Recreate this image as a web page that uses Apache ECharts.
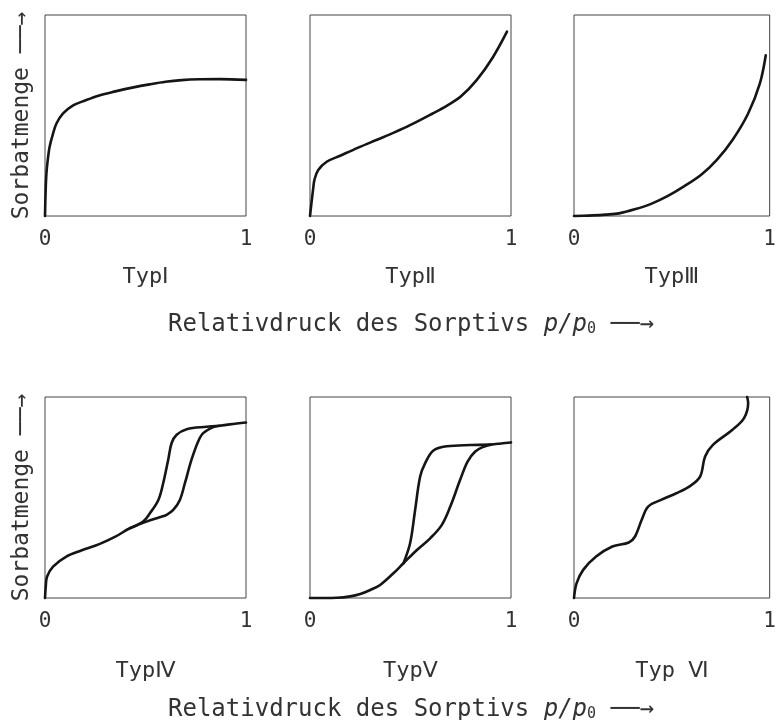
<!DOCTYPE html>
<html>
<head>
<meta charset="utf-8">
<script src="https://cdn.jsdelivr.net/npm/echarts@6/dist/echarts.min.js"></script>
<style>html,body{margin:0;padding:0;background:#fff}#c{width:779px;height:720px}</style>
</head>
<body>
<div id="c"></div>
<script>
// ---- data (relative pressure p/p0 -> sorbed amount, normalised 0..1) ----
const typeNames = ['Typ\u2160', 'Typ\u2161', 'Typ\u2162', 'Typ\u2163', 'Typ\u2164', 'Typ \u2165'];
const tickLabels = ['0', '1'];
const yNameText = 'Sorbatmenge';
const xTitleText = 'Relativdruck des Sorptivs';
const xTitleVar = 'p/p';
const xTitleSub = '0';
const arrowText = '\u2500\u2500\u2192';

const typ1X = [0, 0.003, 0.007, 0.015, 0.023, 0.04, 0.057, 0.09, 0.14, 0.2, 0.27, 0.35, 0.44, 0.52, 0.6, 0.68, 0.77, 0.87, 1.0];
const typ1Y = [0, 0.12, 0.21, 0.29, 0.345, 0.41, 0.46, 0.51, 0.55, 0.575, 0.60, 0.62, 0.64, 0.655, 0.668, 0.676, 0.68, 0.681, 0.677];

const typ2X = [0, 0.008, 0.017, 0.022, 0.041, 0.083, 0.15, 0.24, 0.33, 0.42, 0.5, 0.61, 0.68, 0.75, 0.83, 0.91, 0.98];
const typ2Y = [0, 0.07, 0.146, 0.18, 0.229, 0.27, 0.30, 0.34, 0.378, 0.416, 0.453, 0.51, 0.548, 0.594, 0.677, 0.79, 0.917];

const typ3X = [0, 0.05, 0.096, 0.16, 0.23, 0.31, 0.40, 0.48, 0.56, 0.65, 0.73, 0.81, 0.89, 0.95, 0.98];
const typ3Y = [0, 0.001, 0.003, 0.007, 0.013, 0.033, 0.063, 0.10, 0.146, 0.205, 0.279, 0.378, 0.51, 0.66, 0.80];

const typ4AdsX = [0, 0.004, 0.01, 0.04, 0.106, 0.18, 0.27, 0.35, 0.422, 0.505, 0.57, 0.605, 0.638, 0.671, 0.696, 0.729, 0.762, 0.787, 0.837, 0.87, 0.92, 1.0];
const typ4AdsY = [0, 0.06, 0.106, 0.156, 0.206, 0.236, 0.268, 0.305, 0.347, 0.38, 0.402, 0.414, 0.438, 0.488, 0.571, 0.688, 0.779, 0.82, 0.85, 0.857, 0.864, 0.873];
const typ4DesX = [0.422, 0.488, 0.522, 0.564, 0.588, 0.613, 0.63, 0.655, 0.705, 0.804, 0.87];
const typ4DesY = [0.347, 0.38, 0.422, 0.488, 0.571, 0.688, 0.771, 0.812, 0.84, 0.852, 0.857];

const typ5AdsX = [0, 0.07, 0.133, 0.2, 0.25, 0.3, 0.349, 0.415, 0.465, 0.532, 0.598, 0.656, 0.698, 0.747, 0.784, 0.822, 0.86, 0.9, 0.95, 1.0];
const typ5AdsY = [0, 0, 0.001, 0.008, 0.02, 0.04, 0.065, 0.123, 0.173, 0.239, 0.297, 0.364, 0.455, 0.588, 0.679, 0.729, 0.751, 0.763, 0.769, 0.774];
const typ5DesX = [0.465, 0.498, 0.523, 0.548, 0.573, 0.614, 0.681, 0.8, 0.9];
const typ5DesY = [0.173, 0.272, 0.438, 0.604, 0.671, 0.734, 0.755, 0.761, 0.763];

const typ6X = [0, 0.013, 0.047, 0.113, 0.196, 0.28, 0.312, 0.346, 0.379, 0.445, 0.52, 0.595, 0.645, 0.67, 0.71, 0.81, 0.869, 0.89, 0.885];
const typ6Y = [0, 0.073, 0.14, 0.206, 0.256, 0.276, 0.306, 0.389, 0.455, 0.488, 0.52, 0.558, 0.605, 0.704, 0.762, 0.837, 0.895, 0.97, 1.0];

// ---- layout ----
const FONT = "'DejaVu Sans Mono', 'DejaVu Sans', monospace";
const TXT = '#333';
const LINE = '#151515';
const cols = [{left: 45, width: 201}, {left: 310, width: 201}, {left: 574, width: 200}];
const rows = [{top: 15, height: 201, nameGap: 50}, {top: 397, height: 201, nameGap: 62}];

const grids = [], xAxes = [], yAxes = [];
for (let r = 0; r < 2; r++) {
  for (let c = 0; c < 3; c++) {
    const i = r * 3 + c;
    grids.push({left: cols[c].left, width: cols[c].width, top: rows[r].top, height: rows[r].height,
      show: true, borderColor: '#444', borderWidth: 1, backgroundColor: 'transparent', containLabel: false});
    xAxes.push({
      gridIndex: i, type: 'value', min: 0, max: 1, interval: 1,
      axisLine: {show: false}, axisTick: {show: false}, splitLine: {show: false},
      axisLabel: {show: true, margin: 13, fontSize: 21, fontFamily: FONT, color: TXT,
        formatter: v => tickLabels[Math.round(v)]},
      name: typeNames[i], nameLocation: 'middle', nameGap: rows[r].nameGap,
      nameTextStyle: {fontSize: 22, fontFamily: FONT, color: TXT}
    });
    yAxes.push({
      gridIndex: i, type: 'value', min: 0, max: 1,
      axisLine: {show: false}, axisTick: {show: false}, splitLine: {show: false}, axisLabel: {show: false},
      name: c === 0 ? yNameText + ' ' + arrowText : '', nameLocation: 'middle', nameRotate: 90, nameGap: 11,
      nameTextStyle: {fontSize: 23, fontFamily: FONT, color: TXT}
    });
  }
}

function zip(xs, ys) { return xs.map((x, k) => [x, ys[k]]); }
const curves = [
  [0, typ1X, typ1Y], [1, typ2X, typ2Y], [2, typ3X, typ3Y],
  [3, typ4AdsX, typ4AdsY], [3, typ4DesX, typ4DesY],
  [4, typ5AdsX, typ5AdsY], [4, typ5DesX, typ5DesY],
  [5, typ6X, typ6Y]
];
const series = curves.map(([g, xs, ys]) => ({
  type: 'line', xAxisIndex: g, yAxisIndex: g, data: zip(xs, ys),
  showSymbol: false, smooth: 0.35, clip: false, silent: true,
  lineStyle: {color: LINE, width: 2.6, cap: 'round', join: 'round'}
}));

const titleRich = {
  n: {fontSize: 24, fontWeight: 'normal', fontFamily: FONT, color: TXT},
  i: {fontSize: 24, fontWeight: 'normal', fontFamily: FONT, fontStyle: 'italic', color: TXT},
  s: {fontSize: 15, fontWeight: 'normal', fontFamily: FONT, color: TXT, verticalAlign: 'bottom'},
  a: {fontSize: 24, fontWeight: 'normal', fontFamily: FONT, color: TXT}
};
const titleStr = '{n|' + xTitleText + ' }{i|' + xTitleVar + '}{s|' + xTitleSub + '}{n| }{a|' + arrowText + '}';

const chart = echarts.init(document.getElementById('c'), null, {renderer: 'canvas'});
chart.setOption({
  animation: false,
  backgroundColor: '#fff',
  title: [
    {text: titleStr, left: 163, top: 308, textStyle: {fontWeight: 'normal', rich: titleRich}},
    {text: titleStr, left: 163, top: 693, textStyle: {fontWeight: 'normal', rich: titleRich}}
  ],
  grid: grids, xAxis: xAxes, yAxis: yAxes, series: series
});
</script>
</body>
</html>
